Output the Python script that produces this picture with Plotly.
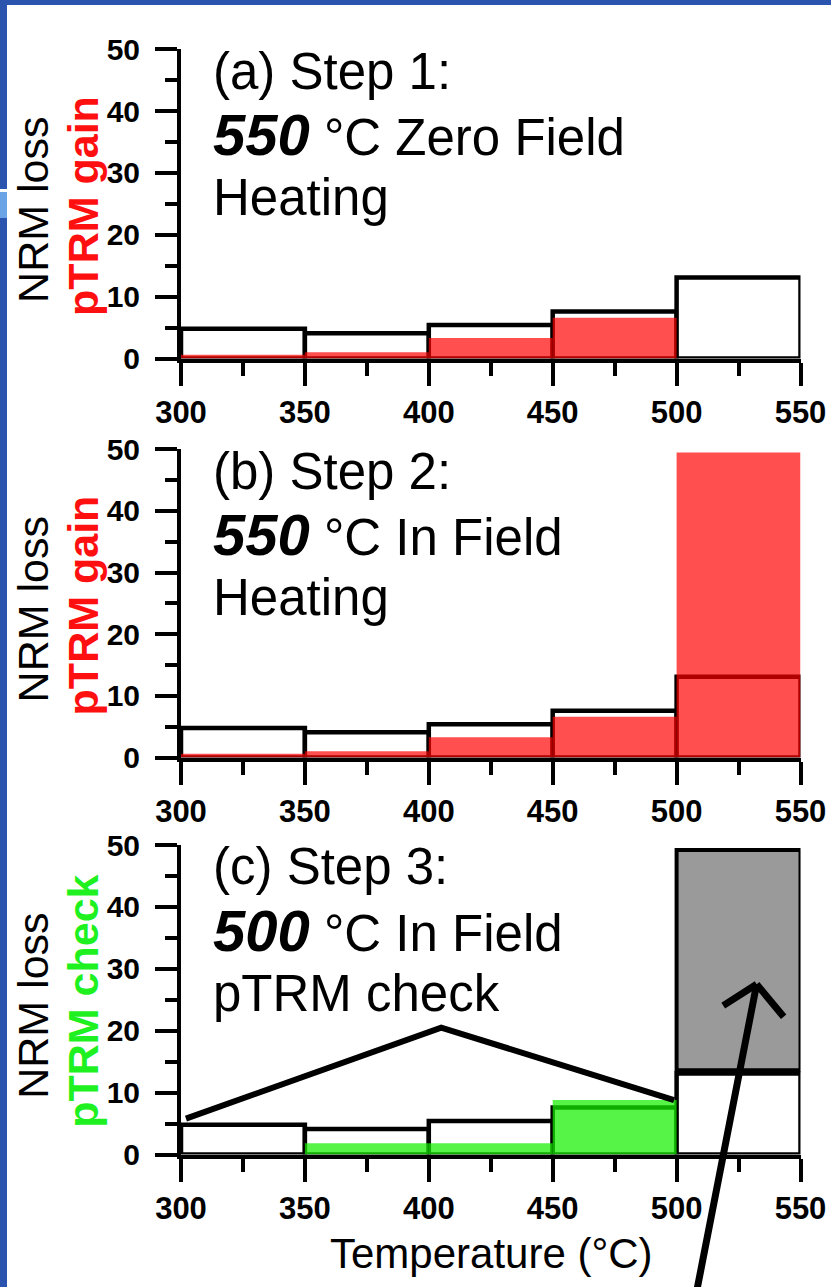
import plotly.graph_objects as go

W, H = 831, 1287
FONT = "Liberation Sans, Arial, sans-serif"

# ---------------- data ----------------
bin_centers = [325, 375, 425, 475, 525]          # temperature steps (°C), 50 °C wide
bin_width = 50
nrm_loss = [4.8, 4.1, 5.4, 7.6, 13.1]
ptrm_gain_a = [0.6, 1.0, 3.3, 6.6, 0.0]
ptrm_gain_b = [0.6, 1.0, 3.3, 6.6, 49.5]
ptrm_check_c = [0.0, 1.8, 1.8, 8.8, 0.0]
gray_x = [525]
gray_base = [13.6]
gray_top = [49.2]
tri_x = [302, 405, 499]
tri_y = [5.8, 20.5, 8.8]
arrow_tip = (532.3, 27.5)
arrow_tail = (508.2, -21.9)
chevron_left = (518.2, 23.9)
chevron_right = (543.7, 22.0)

panel_lines = [
    ["(a) Step 1:", "<span style='font-size:58px'><b><i>550</i></b></span> °C Zero Field", "Heating"],
    ["(b) Step 2:", "<span style='font-size:58px'><b><i>550</i></b></span> °C In Field", "Heating"],
    ["(c) Step 3:", "<span style='font-size:58px'><b><i>500</i></b></span> °C In Field", "pTRM check"],
]
ytitle2 = [("pTRM gain", "#ff1010"), ("pTRM gain", "#ff1010"), ("pTRM check", "#1ff01f")]

# ---------------- layout geometry (pixels) ----------------
def pxx(p):
    return p / W

def pxy(p):
    return 1 - p / H

x_dom = [pxx(181), pxx(800.5)]
panels_px = [(49.3, 358.5), (449.3, 757.5), (845.0, 1154.5)]

RED = "rgba(255,0,0,0.69)"
GREEN = "rgba(20,240,0,0.72)"

fig = go.Figure()

for i in range(3):
    sx = "" if i == 0 else str(i + 1)
    xa, ya = "x" + sx, "y" + sx
    fig.add_trace(go.Bar(x=bin_centers, y=nrm_loss, width=bin_width, xaxis=xa, yaxis=ya,
                         marker=dict(color="white", line=dict(color="black", width=4.5)),
                         showlegend=False, hoverinfo="skip"))
    if i == 0:
        fig.add_trace(go.Bar(x=bin_centers, y=ptrm_gain_a, width=bin_width, xaxis=xa, yaxis=ya,
                             marker=dict(color=RED, line=dict(width=0)), showlegend=False))
    elif i == 1:
        fig.add_trace(go.Bar(x=bin_centers, y=ptrm_gain_b, width=bin_width, xaxis=xa, yaxis=ya,
                             marker=dict(color=RED, line=dict(width=0)), showlegend=False))
    else:
        fig.add_trace(go.Bar(x=bin_centers, y=ptrm_check_c, width=bin_width, xaxis=xa, yaxis=ya,
                             marker=dict(color=GREEN, line=dict(width=0)), showlegend=False))
        fig.add_trace(go.Bar(x=gray_x, y=[t - b for t, b in zip(gray_top, gray_base)], base=gray_base,
                             width=bin_width, xaxis=xa, yaxis=ya,
                             marker=dict(color="#9a9a9a", line=dict(color="black", width=4)),
                             showlegend=False))
        fig.add_trace(go.Scatter(x=tri_x, y=tri_y, mode="lines", xaxis=xa, yaxis=ya,
                                 line=dict(color="black", width=6), showlegend=False))

    top, bot = panels_px[i]
    axcommon = dict(showline=True, linewidth=4, linecolor="black", ticks="outside",
                    tickwidth=4, tickcolor="black", showgrid=False, zeroline=False)
    fig.layout["xaxis" + sx] = dict(domain=x_dom, anchor=ya, range=[300, 550], tickmode="linear",
                                    tick0=300, dtick=50, ticklen=23, layer="below traces",
                                    tickfont=dict(family=FONT, size=31, color="black", weight="bold"),
                                    minor=dict(ticks="outside", dtick=25, tick0=300, ticklen=13,
                                               tickwidth=4, tickcolor="black", showgrid=False),
                                    **axcommon)
    fig.layout["yaxis" + sx] = dict(domain=[pxy(bot), pxy(top)], anchor=xa, range=[0, 50],
                                    tickmode="linear", tick0=0, dtick=10, ticklen=22,
                                    ticklabelstandoff=9,
                                    tickfont=dict(family=FONT, size=30, color="black", weight="bold"),
                                    minor=dict(ticks="outside", dtick=5, tick0=0, ticklen=12,
                                               tickwidth=4, tickcolor="black", showgrid=False),
                                    **axcommon)

annotations = []
for i in range(3):
    top, bot = panels_px[i]
    mid = (top + bot) / 2
    offs = [22, 85, 148]
    for k, txt in enumerate(panel_lines[i]):
        annotations.append(dict(text=txt, xref="paper", yref="paper", x=pxx(211), y=pxy(top + offs[k]),
                                xanchor="left", yanchor="middle", showarrow=False,
                                font=dict(family=FONT, size=51, color="black")))
    annotations.append(dict(text="NRM loss", xref="paper", yref="paper", x=pxx(33), y=pxy(mid + 6),
                            xanchor="center", yanchor="middle", textangle=-90, showarrow=False,
                            font=dict(family=FONT, size=43, color="black")))
    t2, c2 = ytitle2[i]
    annotations.append(dict(text="<b>" + t2 + "</b>", xref="paper", yref="paper", x=pxx(83), y=pxy(mid + 2),
                            xanchor="center", yanchor="middle", textangle=-90, showarrow=False,
                            font=dict(family=FONT, size=43, color=c2)))

annotations.append(dict(text="Temperature (°C)", xref="paper", yref="paper", x=pxx(491), y=pxy(1253),
                        xanchor="center", yanchor="middle", showarrow=False,
                        font=dict(family=FONT, size=42, color="black")))

# arrow in panel (c)
for tail, wdt in [(arrow_tail, 7), (chevron_left, 7), (chevron_right, 7)]:
    annotations.append(dict(text="", x=arrow_tip[0], y=arrow_tip[1], xref="x3", yref="y3",
                            ax=tail[0], ay=tail[1], axref="x3", ayref="y3", showarrow=True,
                            arrowhead=0, arrowwidth=wdt, arrowcolor="black", standoff=0,
                            startstandoff=0))

shapes = [
    dict(type="rect", xref="paper", yref="paper", x0=0, x1=pxx(7), y0=0, y1=1,
         fillcolor="#2b54ae", line=dict(width=0), layer="above"),
    dict(type="rect", xref="paper", yref="paper", x0=0, x1=1, y0=pxy(5), y1=1,
         fillcolor="#2b54ae", line=dict(width=0), layer="above"),
    dict(type="rect", xref="paper", yref="paper", x0=0, x1=pxx(7), y0=pxy(192), y1=pxy(189),
         fillcolor="white", line=dict(width=0), layer="above"),
    dict(type="rect", xref="paper", yref="paper", x0=0, x1=pxx(7), y0=pxy(218), y1=pxy(192),
         fillcolor="#6aa3e6", line=dict(width=0), layer="above"),
]

fig.update_layout(width=W, height=H, margin=dict(l=0, r=0, t=0, b=0, autoexpand=False),
                  paper_bgcolor="white", plot_bgcolor="white", barmode="overlay",
                  showlegend=False, annotations=annotations, shapes=shapes)

fig.write_html("out.html")
